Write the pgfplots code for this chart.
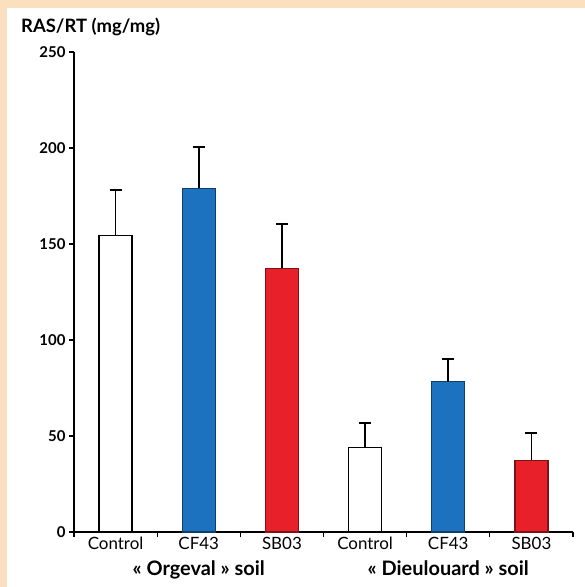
\documentclass[border=0pt]{standalone}
\usepackage{fontspec}
\setmainfont{Lato}
\usepackage{pgfplots}
\pgfplotsset{compat=1.18}
\definecolor{bgbeige}{HTML}{FAE0BF}
\definecolor{barblue}{HTML}{1C72BE}
\definecolor{barred}{HTML}{E8202A}
\pgfplotsset{myerr/.style={error bars/.cd, y dir=plus, y explicit,
  error bar style={line width=1.8bp, black, solid},
  error mark=|,
  error mark options={mark size=6bp, line width=1.8bp, black, solid}}}
\begin{document}
\begin{tikzpicture}[x=1bp,y=1bp]
\fill[bgbeige] (0,0) rectangle (585,587);
\fill[white] (7,0) rectangle (585,579);
\node[anchor=base west, font=\bfseries\fontsize{18.5}{20}\selectfont, inner sep=0pt] at (21,554) {RAS/RT (mg/mg)};
\begin{axis}[
  at={(74bp,55bp)}, anchor=south west,
  scale only axis, width=499bp, height=480bp,
  xmin=-0.5, xmax=5.5, ymin=0, ymax=250,
  axis lines=left, axis line style={-, line width=1.4bp},
  ytick={0,50,...,250},
  /pgf/number format/assume math mode=true,
  yticklabel style={font=\bfseries\fontsize{15}{17}\selectfont},
  tick align=outside, major tick length=5bp,
  tick style={line width=1.2bp, black},
  xtick={-0.5,0.5,1.5,2.5,3.5,4.5,5.5}, xticklabels={,,,,,,},
  extra x ticks={0,1,2,3,4,5},
  extra x tick labels={Control,CF43,SB03,Control,CF43,SB03},
  extra x tick style={major tick length=0pt, xticklabel style={anchor=base, yshift=-18bp, font=\fontsize{17}{19}\selectfont}},
  ybar, bar width=33bp, bar shift=0pt,
  clip=false,
]
\addplot[fill=white, draw=black, line width=1.3bp, myerr]
  coordinates {(0,154.5) +- (0,23.5) (3,44) +- (0,12.6)};
\addplot[fill=barblue, draw=barblue!55!black, line width=1.3bp, myerr]
  coordinates {(1,179) +- (0,21.5) (4,78.3) +- (0,11.8)};
\addplot[fill=barred, draw=barred!55!black, line width=1.3bp, myerr]
  coordinates {(2,137.3) +- (0,23) (5,37.3) +- (0,14.4)};
\node[anchor=base, yshift=-43bp, font=\bfseries\fontsize{20}{22}\selectfont] at (axis cs:1,0) {« Orgeval » soil};
\node[anchor=base, yshift=-43bp, font=\bfseries\fontsize{20}{22}\selectfont] at (axis cs:4,0) {« Dieulouard » soil};
\end{axis}
\end{tikzpicture}
\end{document}
